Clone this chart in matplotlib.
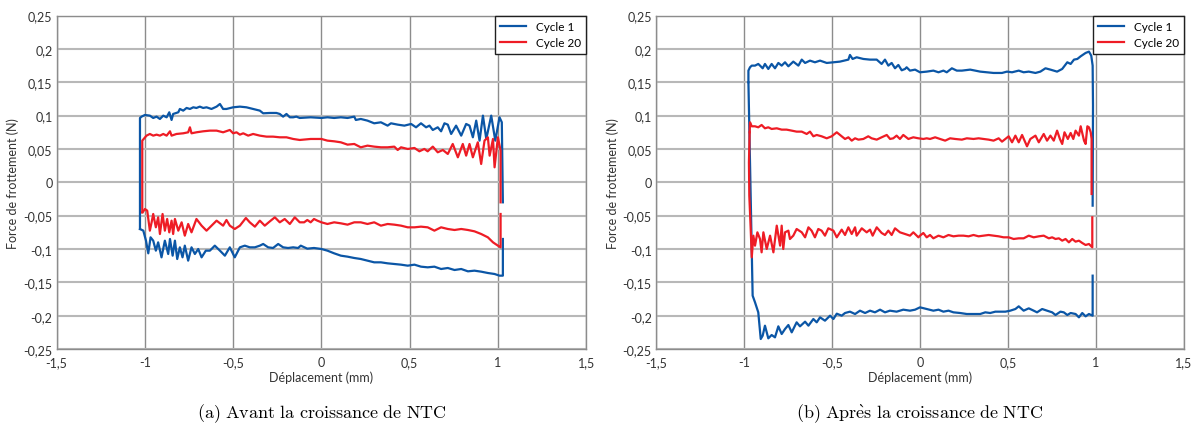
import numpy as np
import matplotlib
matplotlib.use('Agg')
import matplotlib.pyplot as plt

plt.rcParams['font.family'] = ['Lato', 'DejaVu Sans']
plt.rcParams['mathtext.fontset'] = 'cm'

# ---- data (x in mm, y in N) ----
xticks = [-1.5, -1, -0.5, 0, 0.5, 1, 1.5]
xtick_labels = ['-1,5', '-1', '-0,5', '0', '0,5', '1', '1,5']
yticks = [0.25, 0.2, 0.15, 0.1, 0.05, 0, -0.05, -0.1, -0.15, -0.2, -0.25]
ytick_labels = ['0,25', '0,2', '0,15', '0,1', '0,05', '0', '-0,05', '-0,1', '-0,15', '-0,2', '-0,25']
series_names = ['Cycle 1', 'Cycle 20']
captions = [r'$\mathrm{(a)\ Avant\ la\ croissance\ de\ NTC}$',
            r'$\mathrm{(b)\ Apr\grave{e}s\ la\ croissance\ de\ NTC}$']

# (a) cycle 1, upper branch left -> right
a_c1_up = [(-1.028, -0.07), (-1.028, 0.0965), (-1.019, 0.0985), (-1.0, 0.101), (-0.972, 0.1), (-0.953, 0.0965),
           (-0.934, 0.0985), (-0.915, 0.095), (-0.896, 0.1), (-0.877, 0.0975), (-0.862, 0.105), (-0.849, 0.0935),
           (-0.840, 0.1025), (-0.811, 0.105), (-0.802, 0.11), (-0.783, 0.1075), (-0.764, 0.1115), (-0.745, 0.11),
           (-0.726, 0.1125), (-0.708, 0.1115), (-0.689, 0.1135), (-0.670, 0.1115), (-0.651, 0.1125), (-0.623, 0.11),
           (-0.594, 0.1135), (-0.575, 0.1175), (-0.557, 0.11), (-0.538, 0.11), (-0.5, 0.1125), (-0.462, 0.1135),
           (-0.425, 0.1125), (-0.387, 0.11), (-0.349, 0.1075), (-0.330, 0.1035), (-0.292, 0.104), (-0.255, 0.104),
           (-0.236, 0.1025), (-0.217, 0.0985), (-0.198, 0.1025), (-0.179, 0.0975), (-0.160, 0.0975), (-0.142, 0.0985),
           (-0.123, 0.0965), (-0.061, 0.0975), (0, 0.0965), (0.034, 0.0975), (0.072, 0.0965), (0.110, 0.0975),
           (0.148, 0.0965), (0.186, 0.0985), (0.195, 0.0935), (0.223, 0.095), (0.261, 0.0925), (0.299, 0.0885),
           (0.337, 0.09), (0.375, 0.085), (0.394, 0.0885), (0.432, 0.0865), (0.470, 0.085), (0.508, 0.0875),
           (0.536, 0.0825), (0.564, 0.0885), (0.593, 0.0825), (0.612, 0.085), (0.631, 0.0785), (0.659, 0.0825),
           (0.678, 0.0765), (0.697, 0.0885), (0.716, 0.0865), (0.735, 0.0725), (0.763, 0.085), (0.792, 0.07),
           (0.820, 0.0875), (0.839, 0.085), (0.858, 0.0675), (0.877, 0.0925), (0.896, 0.0625), (0.915, 0.1),
           (0.934, 0.065), (0.962, 0.1), (0.985, 0.0625), (1.009, 0.0975), (1.022, 0.09), (1.028, -0.03)]
# (a) cycle 1, lower branch right -> left
a_c1_low = [(1.028, -0.085), (1.028, -0.14), (1.009, -0.14), (0.981, -0.1375), (0.943, -0.136), (0.905, -0.134),
            (0.867, -0.1325), (0.830, -0.1335), (0.792, -0.13), (0.754, -0.1315), (0.716, -0.1285), (0.678, -0.13),
            (0.640, -0.1265), (0.602, -0.1275), (0.564, -0.1265), (0.527, -0.1235), (0.489, -0.125),
            (0.451, -0.1235), (0.413, -0.1225), (0.375, -0.1215), (0.337, -0.12), (0.299, -0.12), (0.261, -0.1175),
            (0.223, -0.115), (0.186, -0.1135), (0.148, -0.1115), (0.110, -0.11), (0.072, -0.1065), (0.034, -0.1025),
            (0, -0.1), (-0.042, -0.0985), (-0.080, -0.0995), (-0.117, -0.095), (-0.132, -0.0985), (-0.160, -0.0975),
            (-0.189, -0.0985), (-0.217, -0.0975), (-0.245, -0.0925), (-0.274, -0.0985), (-0.302, -0.0975),
            (-0.330, -0.0925), (-0.349, -0.095), (-0.377, -0.0975), (-0.406, -0.0975), (-0.434, -0.095),
            (-0.462, -0.0975), (-0.491, -0.1125), (-0.519, -0.0975), (-0.547, -0.11), (-0.575, -0.1025),
            (-0.604, -0.095), (-0.632, -0.1025), (-0.655, -0.1025), (-0.679, -0.1125), (-0.698, -0.1),
            (-0.717, -0.1075), (-0.736, -0.0975), (-0.755, -0.1175), (-0.774, -0.095), (-0.787, -0.1125),
            (-0.802, -0.0975), (-0.817, -0.115), (-0.830, -0.0875), (-0.843, -0.11), (-0.858, -0.085),
            (-0.868, -0.1075), (-0.887, -0.0875), (-0.906, -0.1125), (-0.925, -0.09), (-0.938, -0.1025),
            (-0.953, -0.0875), (-0.968, -0.0825), (-0.981, -0.1065), (-0.994, -0.0875), (-1.009, -0.0725),
            (-1.028, -0.07)]
# (a) cycle 20
a_c20_up = [(-1.015, -0.045), (-1.015, 0.0625), (-0.991, 0.07), (-0.972, 0.0725), (-0.953, 0.07), (-0.934, 0.0715),
            (-0.915, 0.07), (-0.896, 0.0725), (-0.877, 0.07), (-0.858, 0.0765), (-0.849, 0.07), (-0.821, 0.0725),
            (-0.783, 0.0735), (-0.755, 0.075), (-0.745, 0.0825), (-0.736, 0.0735), (-0.708, 0.075), (-0.670, 0.0765),
            (-0.632, 0.0775), (-0.594, 0.0775), (-0.557, 0.075), (-0.519, 0.0785), (-0.5, 0.0735), (-0.481, 0.075),
            (-0.462, 0.0715), (-0.443, 0.0735), (-0.415, 0.07), (-0.387, 0.0725), (-0.349, 0.07), (-0.311, 0.0685),
            (-0.274, 0.0685), (-0.236, 0.0675), (-0.198, 0.0675), (-0.160, 0.065), (-0.123, 0.0635), (-0.061, 0.065),
            (0, 0.065), (0.034, 0.0625), (0.072, 0.0615), (0.110, 0.06), (0.148, 0.0565), (0.186, 0.0575),
            (0.223, 0.0525), (0.261, 0.055), (0.299, 0.0535), (0.337, 0.0525), (0.375, 0.0525), (0.413, 0.0535),
            (0.432, 0.0485), (0.451, 0.0525), (0.489, 0.05), (0.527, 0.0515), (0.555, 0.0465), (0.583, 0.05),
            (0.602, 0.0465), (0.631, 0.0535), (0.659, 0.045), (0.688, 0.0485), (0.716, 0.0425), (0.744, 0.0575),
            (0.773, 0.0375), (0.801, 0.0575), (0.820, 0.04), (0.839, 0.0575), (0.858, 0.0375), (0.886, 0.06),
            (0.905, 0.0275), (0.924, 0.0625), (0.943, 0.0675), (0.953, 0.04), (0.972, 0.065), (0.981, 0.0225),
            (1.0, 0.0675), (1.015, 0.0475), (1.015, -0.03)]
a_c20_low = [(1.015, -0.0475), (1.015, -0.0975), (1.0, -0.095), (0.972, -0.09), (0.943, -0.0825), (0.905, -0.0775),
             (0.867, -0.0735), (0.830, -0.0715), (0.792, -0.07), (0.754, -0.0715), (0.716, -0.07), (0.678, -0.0675),
             (0.640, -0.0725), (0.602, -0.0675), (0.564, -0.0665), (0.527, -0.0675), (0.489, -0.0675),
             (0.451, -0.065), (0.413, -0.0635), (0.375, -0.0625), (0.337, -0.065), (0.299, -0.06), (0.261, -0.0625),
             (0.223, -0.06), (0.186, -0.06), (0.148, -0.0635), (0.110, -0.0615), (0.072, -0.06), (0.034, -0.0625),
             (0, -0.06), (-0.023, -0.0575), (-0.042, -0.055), (-0.061, -0.06), (-0.080, -0.0565), (-0.098, -0.06),
             (-0.123, -0.06), (-0.151, -0.0525), (-0.179, -0.0625), (-0.208, -0.055), (-0.236, -0.06),
             (-0.264, -0.0525), (-0.292, -0.0585), (-0.321, -0.065), (-0.349, -0.0575), (-0.377, -0.0665),
             (-0.406, -0.06), (-0.428, -0.0535), (-0.462, -0.065), (-0.491, -0.07), (-0.519, -0.065),
             (-0.538, -0.0565), (-0.557, -0.065), (-0.594, -0.0575), (-0.632, -0.0675), (-0.651, -0.0725),
             (-0.679, -0.065), (-0.708, -0.055), (-0.736, -0.075), (-0.755, -0.0625), (-0.774, -0.08),
             (-0.792, -0.06), (-0.811, -0.0725), (-0.830, -0.055), (-0.840, -0.0775), (-0.849, -0.0575),
             (-0.862, -0.075), (-0.874, -0.055), (-0.887, -0.0725), (-0.9, -0.0475), (-0.915, -0.0775),
             (-0.925, -0.0525), (-0.938, -0.0675), (-0.953, -0.0475), (-0.962, -0.06), (-0.972, -0.0725),
             (-0.987, -0.0425), (-1.0, -0.04), (-1.013, -0.045), (-1.015, -0.045)]

# (b) cycle 1
b_c1_up = [(-0.975, 0.15), (-0.975, 0.1675), (-0.966, 0.1725), (-0.956, 0.175), (-0.9375, 0.175), (-0.919, 0.1775),
           (-0.909, 0.175), (-0.894, 0.171), (-0.881, 0.1775), (-0.862, 0.17), (-0.843, 0.1775), (-0.824, 0.171),
           (-0.805, 0.179), (-0.786, 0.175), (-0.767, 0.18), (-0.748, 0.174), (-0.720, 0.181), (-0.691, 0.175),
           (-0.672, 0.184), (-0.653, 0.179), (-0.625, 0.1825), (-0.597, 0.18), (-0.568, 0.1825), (-0.530, 0.179),
           (-0.492, 0.18), (-0.455, 0.181), (-0.407, 0.184), (-0.398, 0.191), (-0.383, 0.185), (-0.360, 0.1875),
           (-0.322, 0.185), (-0.284, 0.184), (-0.246, 0.184), (-0.218, 0.1775), (-0.199, 0.184), (-0.180, 0.175),
           (-0.161, 0.179), (-0.142, 0.171), (-0.123, 0.176), (-0.104, 0.168), (-0.085, 0.17), (-0.076, 0.1725),
           (-0.057, 0.1675), (-0.028, 0.169), (0, 0.165), (0.038, 0.166), (0.076, 0.1675), (0.105, 0.165),
           (0.133, 0.1675), (0.152, 0.165), (0.181, 0.171), (0.209, 0.1675), (0.238, 0.1675), (0.285, 0.169),
           (0.314, 0.1675), (0.342, 0.166), (0.380, 0.165), (0.418, 0.164), (0.466, 0.164), (0.494, 0.166),
           (0.523, 0.165), (0.561, 0.1675), (0.589, 0.165), (0.618, 0.166), (0.656, 0.164), (0.684, 0.166),
           (0.713, 0.171), (0.741, 0.169), (0.779, 0.166), (0.808, 0.17), (0.837, 0.18), (0.856, 0.1775),
           (0.875, 0.184), (0.894, 0.185), (0.913, 0.189), (0.941, 0.194), (0.960, 0.196), (0.973, 0.19),
           (0.981, 0.175), (0.983, 0.115), (0.981, -0.035)]
b_c1_low = [(0.981, -0.14), (0.981, -0.2), (0.960, -0.1975), (0.941, -0.201), (0.922, -0.196), (0.903, -0.2025),
            (0.884, -0.1975), (0.856, -0.196), (0.837, -0.199), (0.817, -0.195), (0.798, -0.194), (0.770, -0.199),
            (0.751, -0.195), (0.722, -0.1925), (0.694, -0.19), (0.665, -0.195), (0.646, -0.1925), (0.618, -0.189),
            (0.589, -0.1925), (0.561, -0.186), (0.542, -0.19), (0.513, -0.1925), (0.485, -0.194), (0.456, -0.194),
            (0.428, -0.194), (0.399, -0.196), (0.371, -0.195), (0.342, -0.1975), (0.304, -0.1975), (0.266, -0.1975),
            (0.228, -0.196), (0.190, -0.195), (0.162, -0.1925), (0.133, -0.194), (0.105, -0.191), (0.076, -0.1925),
            (0.038, -0.19), (0, -0.1875), (-0.028, -0.191), (-0.057, -0.1925), (-0.095, -0.191), (-0.133, -0.194),
            (-0.171, -0.1925), (-0.199, -0.195), (-0.227, -0.191), (-0.256, -0.195), (-0.284, -0.1925),
            (-0.312, -0.196), (-0.341, -0.1925), (-0.369, -0.1975), (-0.398, -0.194), (-0.426, -0.196),
            (-0.445, -0.2), (-0.473, -0.197), (-0.492, -0.205), (-0.511, -0.2), (-0.540, -0.2075), (-0.568, -0.2025),
            (-0.587, -0.21), (-0.606, -0.205), (-0.634, -0.215), (-0.653, -0.209), (-0.682, -0.216), (-0.701, -0.21),
            (-0.729, -0.225), (-0.748, -0.214), (-0.767, -0.22), (-0.786, -0.2275), (-0.805, -0.216),
            (-0.824, -0.2325), (-0.843, -0.229), (-0.862, -0.234), (-0.881, -0.215), (-0.894, -0.23),
            (-0.905, -0.235), (-0.919, -0.195), (-0.9375, -0.18), (-0.951, -0.17), (-0.975, 0.15)]
# (b) cycle 20
b_c20_up = [(-0.968, 0.075), (-0.966, 0.09), (-0.956, 0.084), (-0.9375, 0.084), (-0.919, 0.0825), (-0.9, 0.086),
            (-0.881, 0.081), (-0.862, 0.0825), (-0.843, 0.08), (-0.814, 0.081), (-0.786, 0.079), (-0.758, 0.079),
            (-0.729, 0.0775), (-0.701, 0.076), (-0.672, 0.076), (-0.644, 0.0725), (-0.625, 0.076), (-0.606, 0.069),
            (-0.587, 0.071), (-0.559, 0.069), (-0.530, 0.066), (-0.502, 0.069), (-0.473, 0.075), (-0.445, 0.069),
            (-0.426, 0.065), (-0.407, 0.0675), (-0.388, 0.0625), (-0.369, 0.066), (-0.350, 0.064), (-0.322, 0.065),
            (-0.294, 0.069), (-0.275, 0.066), (-0.246, 0.064), (-0.218, 0.0675), (-0.189, 0.071), (-0.170, 0.065),
            (-0.152, 0.066), (-0.133, 0.07), (-0.114, 0.065), (-0.095, 0.071), (-0.066, 0.065), (-0.038, 0.0675),
            (-0.009, 0.066), (0.019, 0.065), (0.038, 0.066), (0.057, 0.065), (0.086, 0.0675), (0.114, 0.065),
            (0.143, 0.0625), (0.171, 0.066), (0.2, 0.065), (0.238, 0.064), (0.266, 0.066), (0.304, 0.065),
            (0.333, 0.066), (0.361, 0.065), (0.390, 0.064), (0.418, 0.0625), (0.447, 0.066), (0.466, 0.061),
            (0.485, 0.065), (0.504, 0.069), (0.523, 0.06), (0.542, 0.07), (0.561, 0.06), (0.580, 0.071),
            (0.608, 0.054), (0.627, 0.065), (0.656, 0.07), (0.675, 0.06), (0.703, 0.0725), (0.722, 0.0625),
            (0.741, 0.07), (0.760, 0.0625), (0.779, 0.0775), (0.795, 0.065), (0.808, 0.0575), (0.821, 0.075),
            (0.840, 0.065), (0.856, 0.074), (0.871, 0.065), (0.884, 0.0775), (0.903, 0.07), (0.913, 0.084),
            (0.932, 0.0625), (0.941, 0.0575), (0.951, 0.084), (0.960, 0.0825), (0.970, 0.075), (0.975, 0.065),
            (0.975, -0.0175)]
b_c20_low = [(0.979, -0.0525), (0.979, -0.0975), (0.960, -0.0925), (0.941, -0.094), (0.922, -0.091),
             (0.903, -0.0875), (0.884, -0.089), (0.865, -0.085), (0.846, -0.09), (0.827, -0.085), (0.808, -0.0875),
             (0.789, -0.084), (0.770, -0.085), (0.751, -0.0825), (0.732, -0.084), (0.703, -0.08), (0.675, -0.081),
             (0.646, -0.0825), (0.618, -0.08), (0.589, -0.084), (0.561, -0.084), (0.532, -0.085), (0.504, -0.0825),
             (0.475, -0.0825), (0.447, -0.081), (0.418, -0.08), (0.390, -0.079), (0.361, -0.08), (0.333, -0.081),
             (0.304, -0.079), (0.276, -0.081), (0.247, -0.08), (0.219, -0.08), (0.190, -0.081), (0.162, -0.079),
             (0.133, -0.0825), (0.105, -0.08), (0.076, -0.084), (0.057, -0.079), (0.038, -0.0825), (0.019, -0.076),
             (0, -0.08), (-0.009, -0.0825), (-0.038, -0.075), (-0.057, -0.08), (-0.085, -0.0775), (-0.114, -0.075),
             (-0.142, -0.069), (-0.161, -0.079), (-0.180, -0.0725), (-0.199, -0.079), (-0.218, -0.076),
             (-0.246, -0.0675), (-0.269, -0.08), (-0.284, -0.071), (-0.303, -0.075), (-0.331, -0.069),
             (-0.360, -0.08), (-0.369, -0.0675), (-0.388, -0.0775), (-0.407, -0.0675), (-0.426, -0.079),
             (-0.445, -0.071), (-0.473, -0.0825), (-0.492, -0.0725), (-0.521, -0.069), (-0.540, -0.08),
             (-0.559, -0.0725), (-0.578, -0.07), (-0.597, -0.0825), (-0.616, -0.0725), (-0.634, -0.0675),
             (-0.653, -0.0825), (-0.672, -0.075), (-0.701, -0.07), (-0.720, -0.08), (-0.739, -0.085),
             (-0.748, -0.0725), (-0.767, -0.075), (-0.777, -0.1), (-0.786, -0.065), (-0.795, -0.095),
             (-0.814, -0.065), (-0.833, -0.105), (-0.852, -0.08), (-0.871, -0.1), (-0.890, -0.075), (-0.9, -0.105),
             (-0.909, -0.085), (-0.924, -0.075), (-0.9375, -0.095), (-0.947, -0.08), (-0.956, -0.1125),
             (-0.962, -0.07), (-0.970, -0.02), (-0.972, 0.03), (-0.968, 0.075)]

panels = [
    [(a_c1_up, a_c1_low), (a_c20_up, a_c20_low)],
    [(b_c1_up, b_c1_low), (b_c20_up, b_c20_low)],
]

colors = ['#0b56a6', '#ee1c25']
txt_col = '#333333'

fig = plt.figure(figsize=(11.98, 4.27), dpi=100)
ax_pos = [[0.0473, 0.1803, 0.4420, 0.7808], [0.5476, 0.1803, 0.4407, 0.7808]]

for k, branches in enumerate(panels):
    ax = fig.add_axes(ax_pos[k])
    for (up, low), col, name in zip(branches, colors, series_names):
        ux, uy = np.array(up).T
        lx, ly = np.array(low).T
        ax.plot(ux, uy, '-', color=col, lw=1.6, label=name, solid_joinstyle='round')
        ax.plot(lx, ly, '-', color=col, lw=1.6, solid_joinstyle='round')
    ax.set_xlim(-1.5, 1.5)
    ax.set_ylim(-0.25, 0.25)
    ax.set_xticks(xticks)
    ax.set_xticklabels(xtick_labels)
    ax.set_yticks(yticks)
    ax.set_yticklabels(ytick_labels)
    ax.tick_params(axis='x', length=0, labelsize=9, colors=txt_col, pad=5)
    ax.tick_params(axis='y', length=0, labelsize=9, colors=txt_col, pad=3)
    ax.xaxis.grid(True, color='#8c8c8c', lw=1.0)
    ax.yaxis.grid(True, color='#b8b8b8', lw=1.5)
    ax.set_axisbelow(True)
    for s in ax.spines.values():
        s.set_color('#8c8c8c')
        s.set_linewidth(1.0)
    ax.set_xlabel('Déplacement (mm)', fontsize=9, color=txt_col, labelpad=2)
    ax.set_ylabel('Force de frottement (N)', fontsize=9, color=txt_col, labelpad=3)
    leg = ax.legend(loc='upper right', fontsize=8.5, frameon=True, fancybox=False, edgecolor='#202020',
                    framealpha=1, borderaxespad=0, handlelength=2.2, labelspacing=0.45, borderpad=0.45)
    leg.get_frame().set_linewidth(1.0)
    fig.text(ax_pos[k][0] + ax_pos[k][2] / 2, 0.031, captions[k], ha='center', va='center', fontsize=13)

plt.savefig('out.png', dpi=100)
